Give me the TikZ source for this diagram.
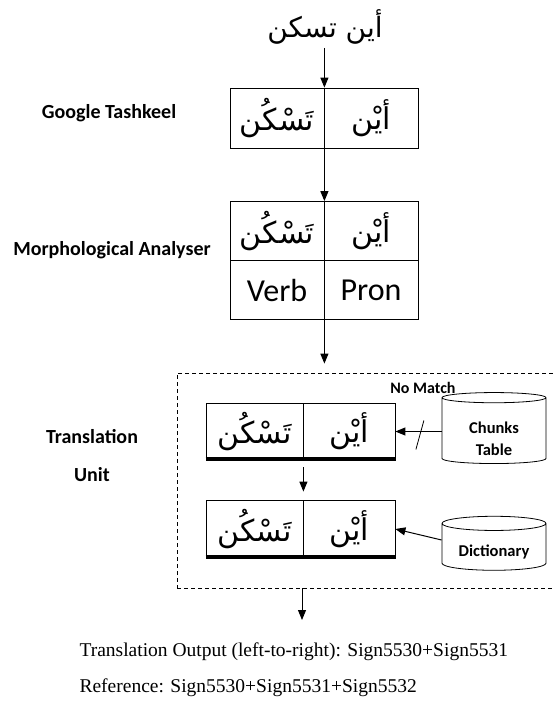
\documentclass[tikz,border=0pt]{standalone}
\usepackage{fontspec}
\setmainfont{Liberation Serif}
\newfontfamily\labelfont{Carlito}
\newfontfamily\arabicfont[Script=Arabic]{DejaVu Sans}
\TeXXeTstate=1
\usetikzlibrary{arrows.meta, positioning, shapes.geometric}

\begin{document}
\begin{tikzpicture}[
    x=1pt, y=-1pt,
    font=\labelfont,
    cell/.style={draw, line width=0.8pt, minimum width=94pt, minimum height=60pt,
                 inner sep=0pt, font=\arabicfont\fontsize{30}{34}\selectfont},
    tagcell/.style={cell, font=\labelfont\fontsize{32}{36}\selectfont},
    stage/.style={font=\labelfont\bfseries\fontsize{20}{38}\selectfont, align=center},
    db/.style={draw, line width=0.8pt, cylinder, shape border rotate=90, aspect=0.19,
               minimum width=104pt, minimum height=71pt, inner sep=2pt,
               font=\labelfont\bfseries\fontsize{16.5}{22}\selectfont},
    arr/.style={-{Triangle[length=10pt, width=8pt]}, line width=1pt},
    bar/.style={line width=4pt},
]
\useasboundingbox (0,0) rectangle (552,701);

% input sentence
\node[font=\arabicfont\fontsize{28}{32}\selectfont] (query) at (325,27) {\beginR أين تسكن\endR};

% Google Tashkeel
\node[cell] (gl) at (277,118) {\beginR تَسْكُن\endR};
\node[cell] (gr) at (371,118) {\beginR أيْن\endR};
\node[stage] (gtlab) at (109,113) {Google Tashkeel};
\draw[arr] (query.south -| gl.north east) -- (gl.north east);

% Morphological analyser
\node[cell, minimum height=59pt] (ml) at (277,231) {\beginR تَسْكُن\endR};
\node[cell, minimum height=59pt] (mr) at (371,231) {\beginR أيْن\endR};
\node[tagcell, minimum height=59pt] (vl) at (277,290) {Verb};
\node[tagcell, minimum height=59pt] (vr) at (371,290) {Pron};
\node[stage] (malab) at (112,250) {Morphological Analyser};
\draw[arr] (gl.south east) -- (ml.north east);

% Translation unit
\node[draw, dash pattern=on 4pt off 3pt, line width=0.8pt, minimum width=413pt,
      minimum height=215pt] (unit) at (383.5,480.5) {};
\node[stage] (tulab) at (92,456) {Translation\\Unit};
\draw[arr, shorten >=9pt] (vl.south east) -- (vl.south east |- unit.north);

\node[cell, minimum width=97pt, minimum height=57pt] (tl) at (254.5,431.5) {\beginR تَسْكُن\endR};
\node[cell, minimum width=92pt, minimum height=57pt] (tr) at (349,431.5) {\beginR أيْن\endR};
\draw[bar] ([yshift=1.5pt]tl.south west) -- ([yshift=1.5pt]tr.south east);

\node[cell, minimum width=97pt, minimum height=58pt] (dl) at (254.5,529) {\beginR تَسْكُن\endR};
\node[cell, minimum width=92pt, minimum height=58pt] (dr) at (349,529) {\beginR أيْن\endR};
\draw[bar] ([yshift=1.5pt]dl.south west) -- ([yshift=1.5pt]dr.south east);
\draw[arr, shorten <=7pt, shorten >=8pt] (tl.south east) -- (dl.north east);

\node[db] (chunks) at (494,431.5)
    {\raisebox{-13pt}[0pt][0pt]{\begin{tabular}{@{}c@{}}Chunks\\Table\end{tabular}}};
\node[db, minimum height=54pt] (dict) at (494,548)
    {\raisebox{-3pt}[0pt][0pt]{\raisebox{-0.35em}{Dictionary}}};
\node[font=\labelfont\bfseries\fontsize{16}{18}\selectfont] (nomatch) at (423,388) {No Match};

\draw[arr] (chunks.west) -- (tr.east |- chunks.west) coordinate[pos=0.47] (cut);
\draw[line width=0.8pt] ([shift={(-4,18)}]cut) -- ([shift={(4,-11)}]cut);
\draw[arr] ([yshift=8pt]dict.west) -- (dr.east);

% output
\coordinate (outtip) at (302,620);
\draw[arr] (outtip |- unit.south) -- (outtip);
\node[anchor=west, font=\fontsize{19.5}{22}\selectfont] (output) at (76,652)
    {Translation Output (left-to-right): Sign5530+Sign5531};
\node[anchor=west, font=\fontsize{19.5}{22}\selectfont] (reference) at (76,688)
    {Reference: Sign5530+Sign5531+Sign5532};
\end{tikzpicture}
\end{document}
